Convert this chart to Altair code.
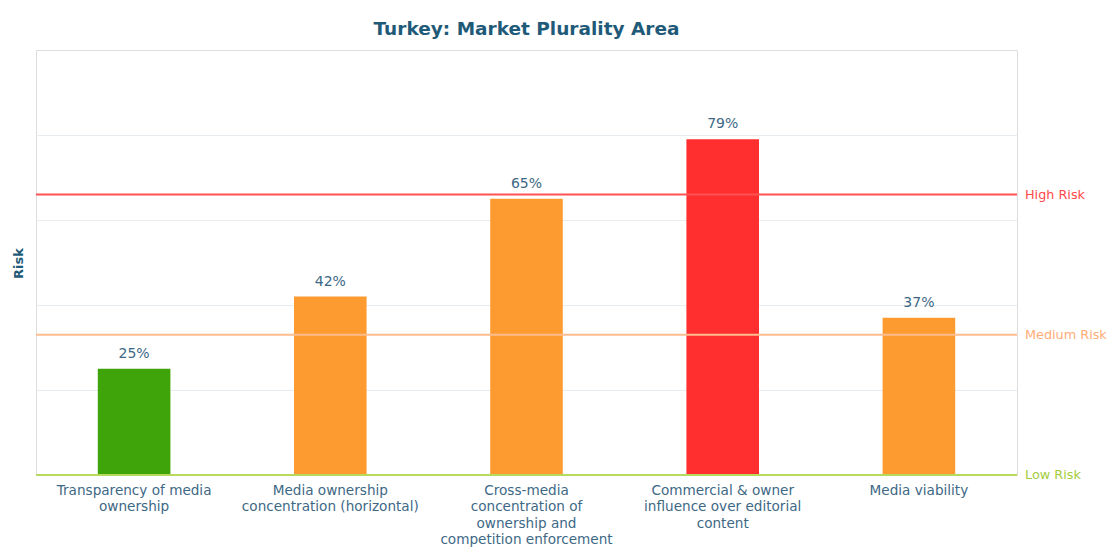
import altair as alt
import pandas as pd

categories = [
    "Transparency of media\nownership",
    "Media ownership\nconcentration (horizontal)",
    "Cross-media\nconcentration of\nownership and\ncompetition enforcement",
    "Commercial & owner\ninfluence over editorial\ncontent",
    "Media viability",
]
values = [25, 42, 65, 79, 37]
levels = ["Low", "Medium", "Medium", "High", "Medium"]

threshold_names = ["High Risk", "Medium Risk", "Low Risk"]
threshold_values = [66, 33, 0]

df = pd.DataFrame({"cat": categories, "value": values, "level": levels})
df["label"] = [f"{v}%" for v in values]
th = pd.DataFrame({"name": threshold_names, "value": threshold_values})

W, H = 981, 425
FONT = "DejaVu Sans"

xenc = alt.X("cat:N", sort=categories, title=None,
             scale=alt.Scale(paddingInner=0.63, paddingOuter=0.315),
             axis=alt.Axis(labelAngle=0, ticks=False, domain=False,
                           labelExpr="split(datum.label, '\\n')",
                           labelColor="#3d6885", labelFontSize=13.6,
                           labelFont=FONT, labelPadding=8,
                           labelLineHeight=16.6, labelLimit=300))
yscale = alt.Scale(domain=[0, 100], nice=False)
yenc = alt.Y("value:Q", scale=yscale, title="Risk",
             axis=alt.Axis(labels=False, ticks=False, domain=False,
                           values=[20, 40, 60, 80], gridColor="#e6ecf0",
                           titleColor="#1f5a78", titleFont=FONT,
                           titleFontSize=13, titleFontWeight="bold",
                           titleX=-18, titleY=213, titleAlign="center",
                           titleBaseline="middle", titleAngle=-90))

bars = alt.Chart(df).mark_bar().encode(
    x=xenc, y=yenc,
    color=alt.Color("level:N", legend=None,
                    scale=alt.Scale(domain=["Low", "Medium", "High"],
                                    range=["#3ea40a", "#fd9b31", "#ff2f2f"])),
)

texts = alt.Chart(df).mark_text(baseline="bottom", dy=-8, fontSize=14,
                                font=FONT, color="#3d6885").encode(
    x=alt.X("cat:N", sort=categories), y=alt.Y("value:Q", scale=yscale),
    text="label:N")

line_scale = alt.Scale(domain=threshold_names,
                       range=["#ff5252", "#ffbd90", "#b7da5c"])
rules = alt.Chart(th).mark_rule(strokeWidth=2).encode(
    y=alt.Y("value:Q", scale=yscale),
    color=alt.Color("name:N", scale=line_scale, legend=None))

text_scale = alt.Scale(domain=threshold_names,
                       range=["#ff4848", "#ffac78", "#a3cd3a"])
rule_labels = alt.Chart(th).mark_text(align="left", baseline="middle",
                                      fontSize=12.8, font=FONT).encode(
    x=alt.value(W + 8),
    y=alt.Y("value:Q", scale=yscale),
    text="name:N",
    color=alt.Color("name:N", scale=text_scale, legend=None))

chart = alt.layer(bars, texts, rules, rule_labels).resolve_scale(
    color="independent"
).properties(
    width=W, height=H,
    title=alt.TitleParams("Turkey: Market Plurality Area", font=FONT,
                          fontSize=18.5, fontWeight="bold", color="#1f5a78",
                          anchor="middle", frame="group", offset=12),
    autosize=alt.AutoSizeParams(type="none"),
    padding={"left": 28, "top": 42, "right": 93, "bottom": 72},
).configure_view(stroke="#c8d8e2", strokeWidth=1.5).configure(
    background="white")

chart.save("out.html", embed_options={"renderer": "svg", "actions": False})
